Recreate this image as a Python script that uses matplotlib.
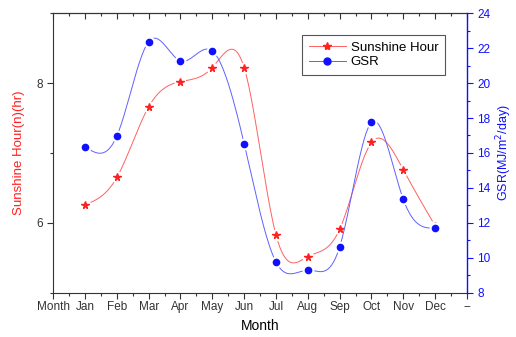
import numpy as np
import matplotlib.pyplot as plt
from matplotlib.lines import Line2D
from matplotlib.ticker import MultipleLocator

plt.rcParams['font.family'] = ['Liberation Sans', 'DejaVu Sans']

months = ["Jan", "Feb", "Mar", "Apr", "May", "Jun",
          "Jul", "Aug", "Sep", "Oct", "Nov", "Dec"]
tick_labels = ["Month"] + months + ["--"]
sunshine = [6.26, 6.65, 7.66, 8.02, 8.22, 8.22, 5.83, 5.52, 5.91, 7.15, 6.76, 5.96]
gsr = [16.36, 16.97, 22.36, 21.26, 21.83, 16.53, 9.77, 9.31, 10.63, 17.75, 13.35, 11.71]


def natural_spline(x, y, n=400):
    # plain natural cubic spline, only used for the connecting line
    x = np.asarray(x, float)
    y = np.asarray(y, float)
    k = len(x)
    h = np.diff(x)
    A = np.zeros((k, k))
    b = np.zeros(k)
    A[0, 0] = A[-1, -1] = 1
    for i in range(1, k - 1):
        A[i, i - 1] = h[i - 1]
        A[i, i] = 2 * (h[i - 1] + h[i])
        A[i, i + 1] = h[i]
        b[i] = 6 * ((y[i + 1] - y[i]) / h[i] - (y[i] - y[i - 1]) / h[i - 1])
    m = np.linalg.solve(A, b)
    xs = np.linspace(x[0], x[-1], n)
    idx = np.clip(np.searchsorted(x, xs) - 1, 0, k - 2)
    t0 = xs - x[idx]
    t1 = x[idx + 1] - xs
    hh = h[idx]
    ys = (m[idx] * t1 ** 3 + m[idx + 1] * t0 ** 3) / (6 * hh) \
        + (y[idx] / hh - m[idx] * hh / 6) * t1 \
        + (y[idx + 1] / hh - m[idx + 1] * hh / 6) * t0
    return xs, ys


x = np.arange(1, len(months) + 1)
red = '#ff2020'
blue = '#1010ff'

fig = plt.figure(figsize=(5.16, 3.37), dpi=100)
ax = fig.add_axes([0.103, 0.1306, 0.802, 0.8308])
ax2 = ax.twinx()

# sunshine on left axis
xs, ys = natural_spline(x, sunshine)
ax.plot(xs, ys, color='#ff6060', lw=0.7, zorder=2)
ax.plot(x, sunshine, ls='none', marker='o', ms=7.5, color='white', zorder=3)
ax.plot(x, sunshine, ls='none', marker='*', ms=5.5, color=red, zorder=4)

# GSR on right axis
xs, ys = natural_spline(x, gsr)
ax2.plot(xs, ys, color='#6060ff', lw=0.7, zorder=2)
ax2.plot(x, gsr, ls='none', marker='o', ms=7.5, color='white', zorder=3)
ax2.plot(x, gsr, ls='none', marker='o', ms=4.5, color=blue, zorder=4)

ax.set_xlim(0, 13)
ax.set_xticks(range(14))
ax.set_xticklabels(tick_labels, fontsize=8.5, color='#222222')
ax.xaxis.set_minor_locator(MultipleLocator(0.5))
ax.set_ylim(5, 9)
ax.set_yticks([6, 8])
ax.yaxis.set_minor_locator(MultipleLocator(1))
ax.tick_params(axis='both', which='major', direction='out', length=4, width=0.8,
               colors='#333333', labelsize=8.5)
ax.tick_params(axis='both', which='minor', direction='out', length=2, width=0.8, colors='#333333')
ax.tick_params(axis='x', pad=2)
ax.set_xlabel("Month", fontsize=10, labelpad=4)
ax.set_ylabel("Sunshine Hour(n)(hr)", color=red, fontsize=9.5, labelpad=8)

# mirrored ticks on top, pointing inward
top = ax.secondary_xaxis('top')
top.set_xticks(range(14))
top.set_xticklabels([])
top.xaxis.set_minor_locator(MultipleLocator(0.5))
top.tick_params(which='major', direction='in', length=4, width=0.8, colors='#333333')
top.tick_params(which='minor', direction='in', length=2, width=0.8, colors='#333333')
top.spines['top'].set_color('#333333')

ax2.set_ylim(8, 24)
ax2.set_yticks(range(8, 25, 2))
ax2.yaxis.set_minor_locator(MultipleLocator(1))
ax2.tick_params(axis='y', which='major', direction='out', length=4, width=0.8,
                colors=blue, labelsize=8.5)
ax2.tick_params(axis='y', which='minor', direction='out', length=2, width=0.8, colors=blue)
ax2.set_ylabel("GSR(MJ/m$^2$/day)", color=blue, fontsize=9, labelpad=3)
ax2.spines['right'].set_color(blue)
ax2.spines['right'].set_linewidth(1.0)
for s in ['left', 'bottom', 'top']:
    ax.spines[s].set_color('#333333')
    ax2.spines[s].set_visible(False)
ax.spines['right'].set_visible(False)
ax2.spines['top'].set_visible(False)

handles = [
    Line2D([], [], color='#ff6060', lw=0.7, marker='*', ms=6, mfc=red, mec=red),
    Line2D([], [], color='#6060ff', lw=0.7, marker='o', ms=5, mfc=blue, mec=blue),
]
leg = ax2.legend(handles, ["Sunshine Hour", "GSR"], loc='upper right',
                 bbox_to_anchor=(0.947, 0.921), borderaxespad=0, fontsize=9.5,
                 frameon=True, fancybox=False, edgecolor='#555555', framealpha=1,
                 handlelength=2.8, borderpad=0.5, labelspacing=0.15, handletextpad=0.4)
leg.get_frame().set_linewidth(0.8)

fig.savefig("out.png", dpi=100)
